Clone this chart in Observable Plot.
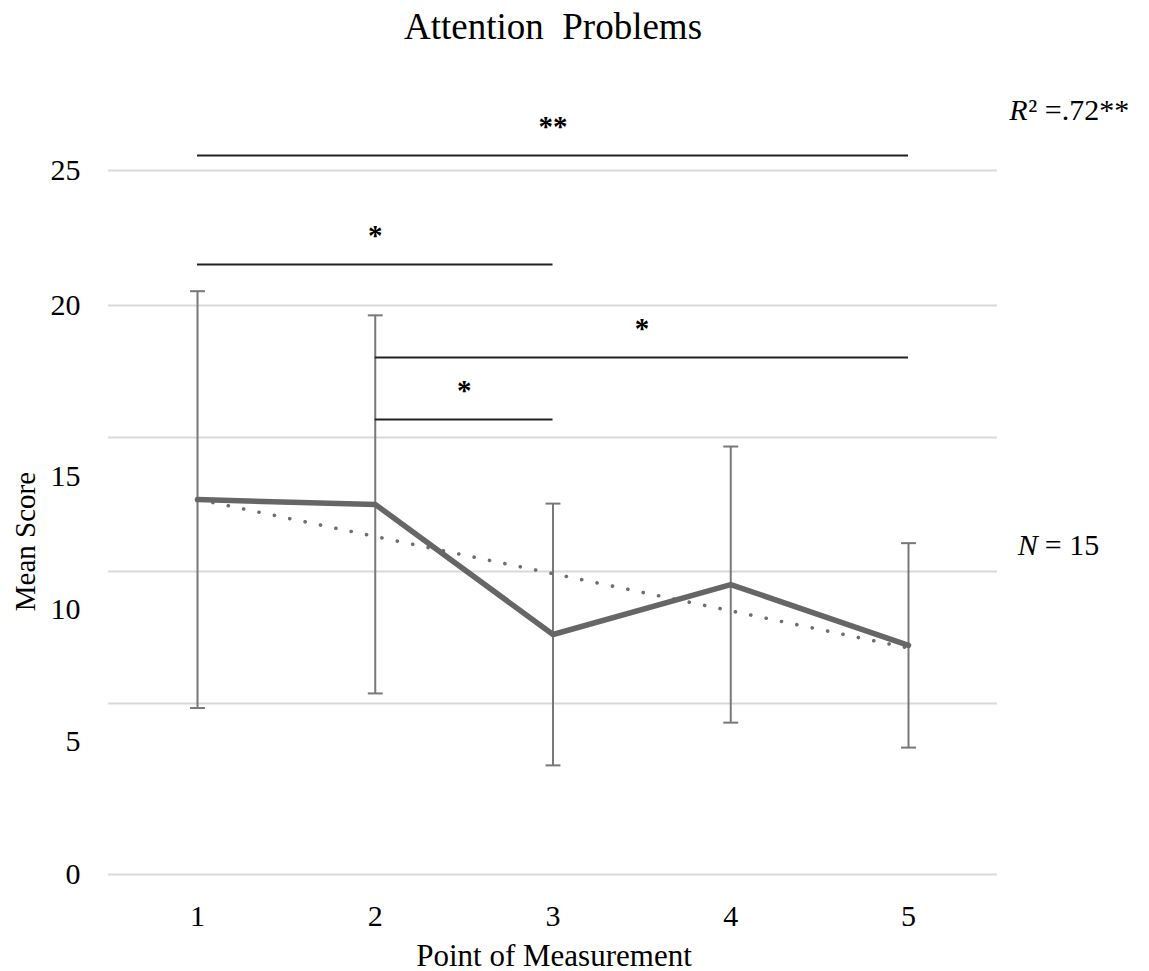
<!DOCTYPE html>
<html><head><meta charset="utf-8">
<script src="https://cdn.jsdelivr.net/npm/d3@7"></script>
<script src="https://cdn.jsdelivr.net/npm/@observablehq/plot@0.6"></script>
<style>body{margin:0;background:#fff} svg{display:block}</style>
</head><body><div id="chart"></div>
<script>
// Data
const points = [1, 2, 3, 4, 5];
const means = [14.12, 13.94, 9.04, 10.92, 8.63];
const sds = [7.85, 7.12, 4.93, 5.20, 3.85];
const xTickLabels = ["1", "2", "3", "4", "5"];
const yTickLabels = ["0", "5", "10", "15", "20", "25"];
const yTickPos = [0, 5, 10, 15, 21.43, 26.52];
const gridPos = [6.44, 11.41, 16.46, 21.43, 26.52];
const compFrom = [1, 1, 2, 2];
const compTo = [5, 3, 5, 3];
const compLevel = [27.08, 22.98, 19.47, 17.14];
const compLabel = ["**", "*", "*", "*"];

const data = points.map((x, i) => ({x, mean: means[i], sd: sds[i]}));
const comps = compFrom.map((f, i) => ({from: f, to: compTo[i], level: compLevel[i], label: compLabel[i]}));
const yTicks = yTickLabels.map((t, i) => ({label: t, pos: yTickPos[i]}));
const xTicks = points.map((p, i) => ({x: p, label: xTickLabels[i]}));

const cap = {draw(ctx, size) { const w = Math.sqrt(size); ctx.moveTo(-w, 0); ctx.lineTo(w, 0); }};
const font = "Liberation Serif, Times New Roman, serif";

const chart = Plot.plot({
  width: 1149,
  height: 971,
  margin: 0,
  style: {fontFamily: font, background: "#fff", color: "#000"},
  x: {type: "linear", domain: [1, 5], range: [197, 908], axis: null},
  y: {type: "linear", domain: [0, 30], range: [874, 77.5], axis: null},
  marks: [
    Plot.ruleY(gridPos, {x1: 0.5, x2: 5.5, stroke: "#d9d9d9", strokeWidth: 2}),
    Plot.ruleY([0], {x1: 0.5, x2: 5.5, stroke: "#d9d9d9", strokeWidth: 2}),
    Plot.ruleX(data, {x: "x", y1: d => d.mean - d.sd, y2: d => d.mean + d.sd, stroke: "#787878", strokeWidth: 2}),
    Plot.dot(data, {x: "x", y: d => d.mean + d.sd, symbol: cap, r: 4.2, stroke: "#787878", strokeWidth: 2}),
    Plot.dot(data, {x: "x", y: d => d.mean - d.sd, symbol: cap, r: 4.2, stroke: "#787878", strokeWidth: 2}),
    Plot.linearRegressionY(data, {x: "x", y: "mean", ci: 0, stroke: "#6e6e6e", strokeWidth: 3.6, strokeDasharray: "0.1 15.6", strokeLinecap: "round"}),
    Plot.lineY(data, {x: "x", y: "mean", stroke: "#666666", strokeWidth: 5.5}),
    Plot.ruleY(comps, {x1: "from", x2: "to", y: "level", stroke: "#222", strokeWidth: 2}),
    Plot.text(comps, {x: d => (d.from + d.to) / 2, y: "level", text: "label", dy: -29, fontSize: 29, fontWeight: "bold", fill: "#000"}),
    // y tick labels
    Plot.text(yTicks, {y: "pos", text: "label", frameAnchor: "left", dx: 80, textAnchor: "end", fontSize: 30, fill: "#000"}),
    // x tick labels
    Plot.text(xTicks, {x: "x", text: "label", frameAnchor: "bottom", dy: -46, fontSize: 30, fill: "#000"}),
    // axis titles
    Plot.text(["Point of Measurement"], {frameAnchor: "bottom", dx: -21, dy: -6, fontSize: 31, fill: "#000"}),
    Plot.text(["Mean Score"], {y: [12.54], frameAnchor: "left", textAnchor: "middle", dx: 25, rotate: -90, fontSize: 29, fill: "#000"}),
    // title
    Plot.text(["Attention\u00a0 Problems"], {frameAnchor: "top", dx: -22, dy: 12, fontSize: 37, fill: "#000"}),
    // annotations
    Plot.text(["R"], {x: [5.567], y: [28.78], textAnchor: "start", fontSize: 30, fontStyle: "italic", fill: "#000"}),
    Plot.text(["\u00b2 =.72**"], {x: [5.567], y: [28.78], dx: 19, textAnchor: "start", fontSize: 30, fill: "#000"}),
    Plot.text(["N"], {x: [5.615], y: [12.39], textAnchor: "start", fontSize: 30, fontStyle: "italic", fill: "#000"}),
    Plot.text(["= 15"], {x: [5.615], y: [12.39], dx: 27, textAnchor: "start", fontSize: 30, fill: "#000"})
  ]
});
document.getElementById("chart").appendChild(chart);
</script>
</body></html>
